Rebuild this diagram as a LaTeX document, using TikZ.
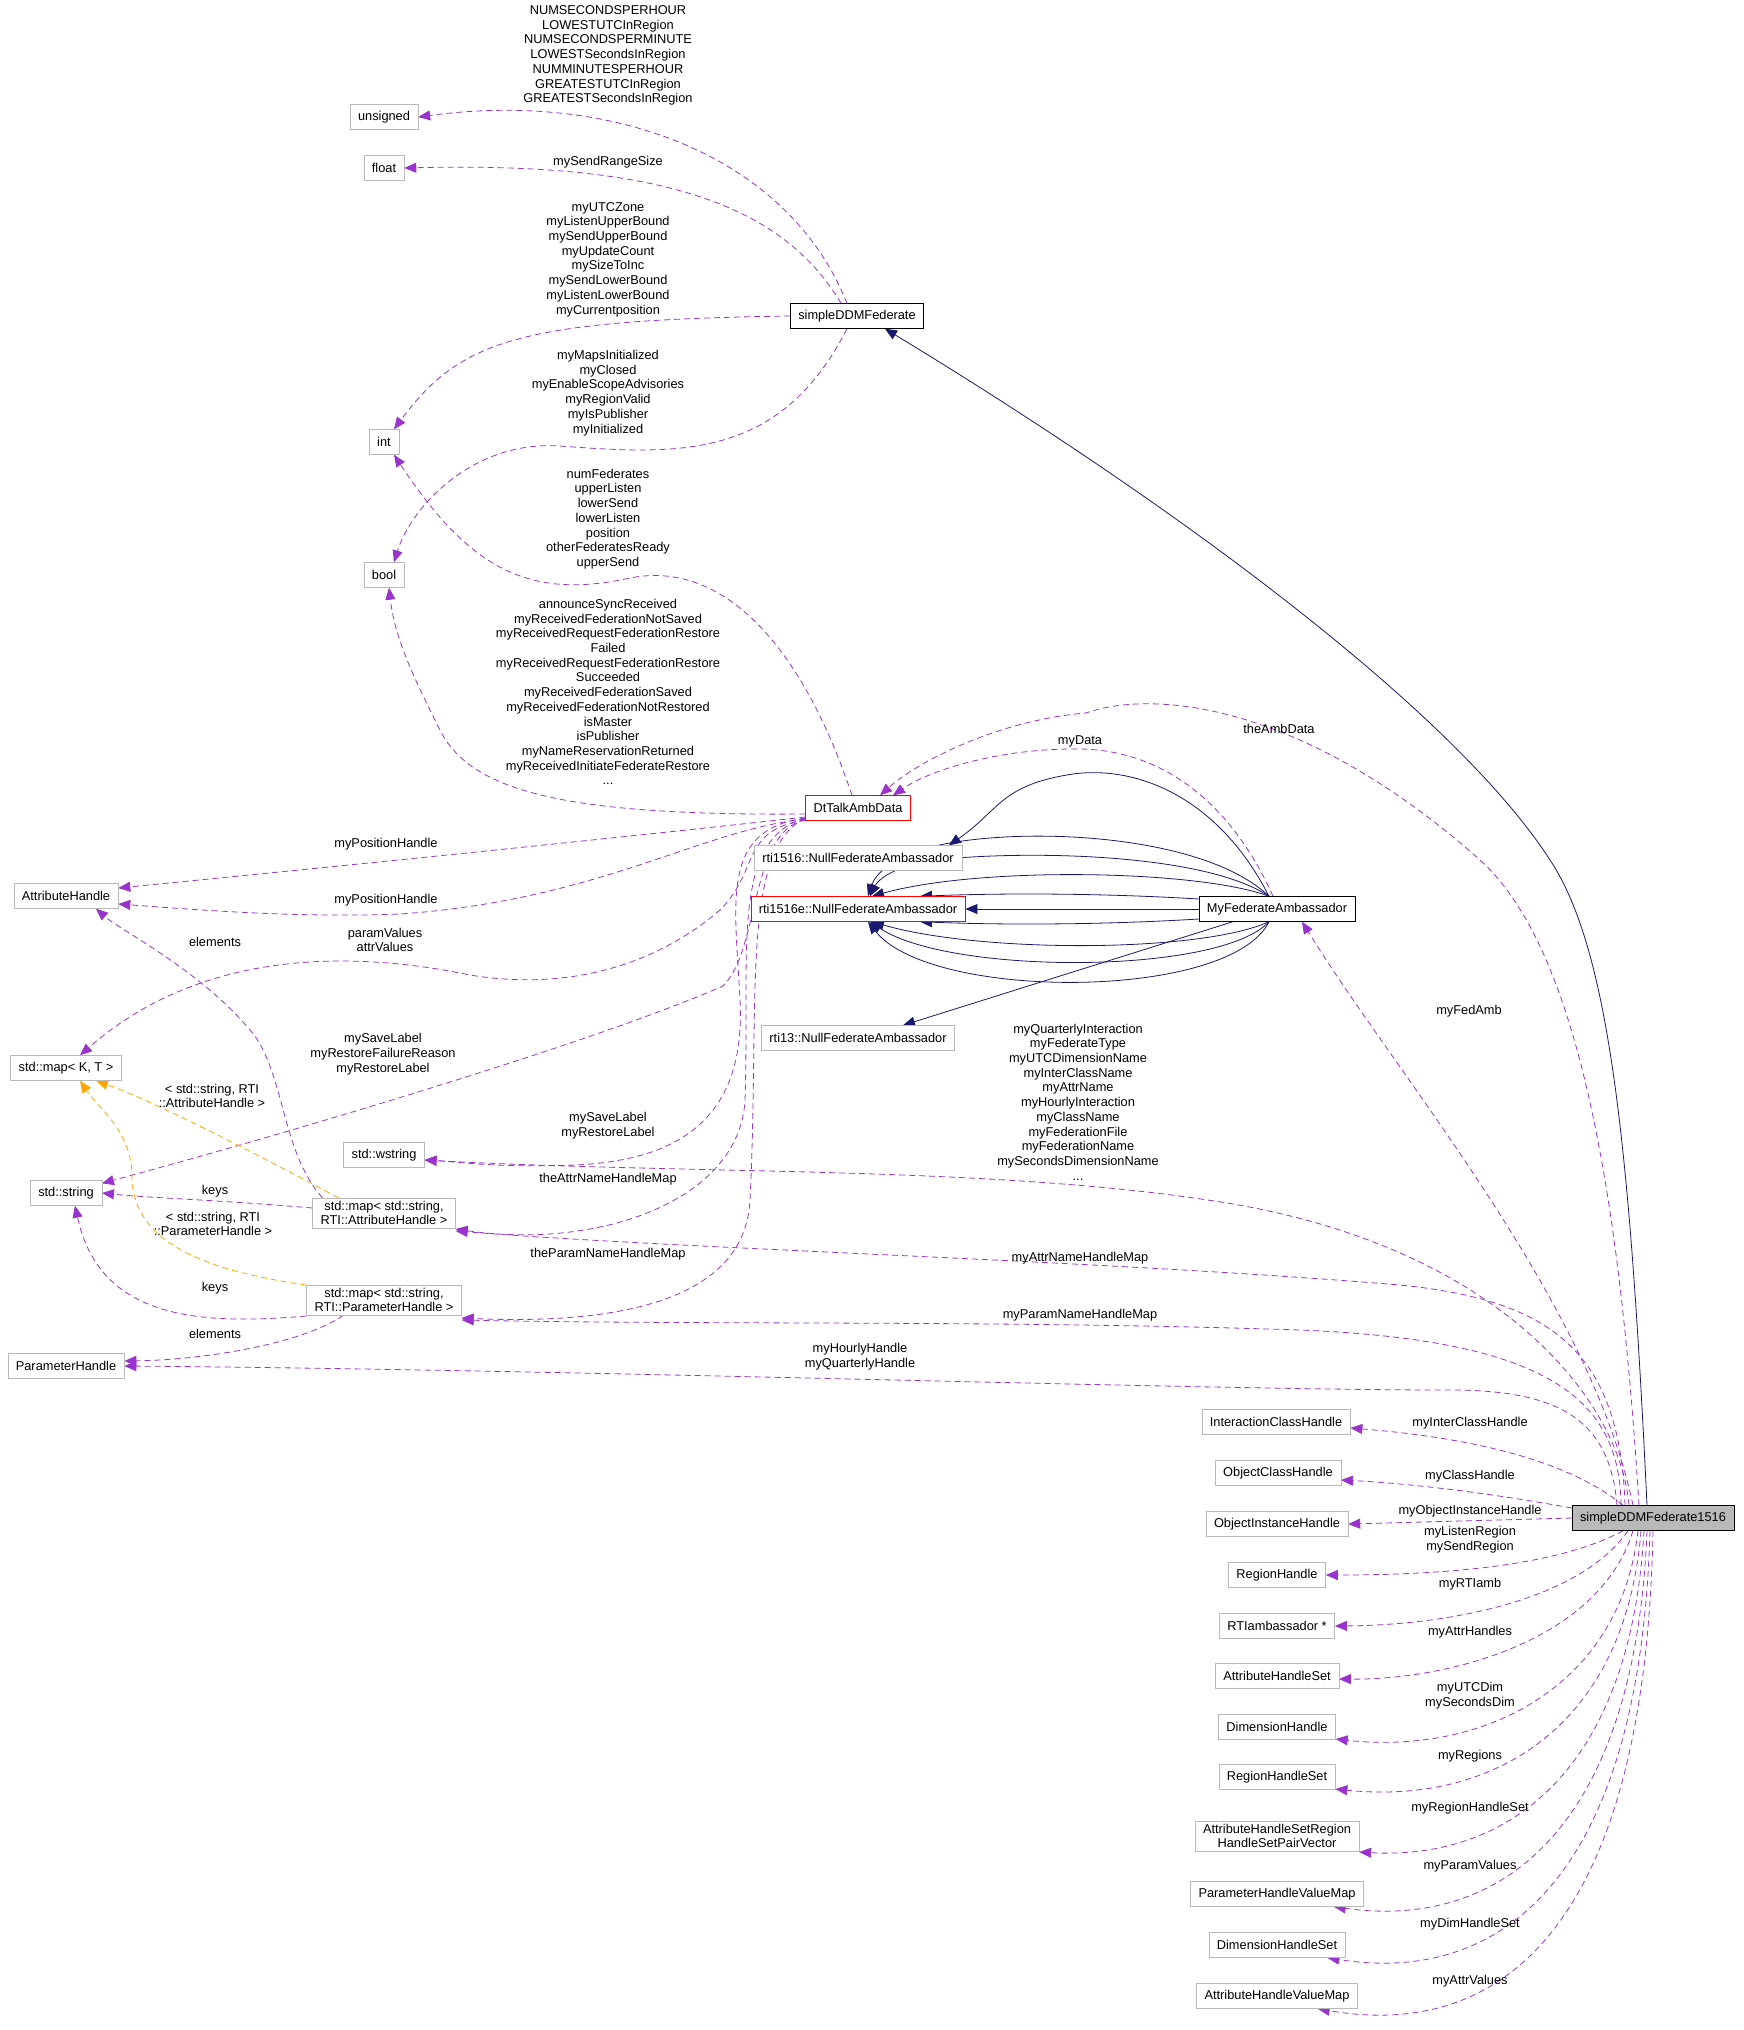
\documentclass[tikz,border=0pt]{standalone}
\usepackage{fontspec}
\newfontfamily\lblfont{Liberation Sans}
\usetikzlibrary{arrows.meta,calc}
\definecolor{pur}{HTML}{9A32CD}
\definecolor{nav}{HTML}{191970}
\definecolor{org}{HTML}{FFA500}
\pgfdeclarelayer{bg}\pgfsetlayers{bg,main}
\begin{document}
\begin{tikzpicture}[x=1pt,y=-1pt,
 every node/.style={font=\lblfont\fontsize{12.8}{14.7}\selectfont, align=center},
 box/.style={draw=gray!55, fill=white, inner xsep=8pt, inner ysep=3pt, minimum height=25pt},
 rbox/.style={box, draw=red},
 kbox/.style={box, draw=black},
 lb/.style={inner sep=0pt},
 pe/.style={draw=pur, dashed, dash pattern=on 6pt off 4pt, thick, -{Triangle[length=12pt,width=10pt]}},
 oe/.style={pe, draw=org},
 ne/.style={draw=nav, thick, -{Triangle[length=12pt,width=10pt]}}]
\useasboundingbox (0,0) rectangle (1744,2030);
% nodes
\node[box] (uns) at (384,117) {unsigned};
\node[box] (flt) at (384,168) {float};
\node[kbox] (F) at (857,316) {simpleDDMFederate};
\node[box] (int) at (384,442) {int};
\node[box] (bool) at (384,575) {bool};
\node[rbox] (D) at (858,808) {DtTalkAmbData};
\node[box] (AH) at (66,896) {AttributeHandle};
\node[box] (R1) at (858,858) {rti1516::NullFederateAmbassador};
\node[rbox] (R1e) at (858,909) {rti1516e::NullFederateAmbassador};
\node[kbox] (M) at (1277,909) {MyFederateAmbassador};
\node[box] (R13) at (858,1038) {rti13::NullFederateAmbassador};
\node[box] (Kmap) at (66,1068) {std::map\textless{} K, T \textgreater};
\node[box] (W) at (384,1155) {std::wstring};
\node[box] (Str) at (66,1193) {std::string};
\node[box] (MA) at (384,1213) {std::map\textless{} std::string,\\RTI::AttributeHandle \textgreater};
\node[box] (MP) at (384,1300) {std::map\textless{} std::string,\\RTI::ParameterHandle \textgreater};
\node[box] (PH) at (66,1366) {ParameterHandle};
\node[box,fill=gray!55,draw=black] (S) at (1653,1518) {simpleDDMFederate1516};
\node[box] (ICH) at (1276,1422) {InteractionClassHandle};
\node[box] (OCH) at (1278,1473) {ObjectClassHandle};
\node[box] (OIH) at (1277,1524) {ObjectInstanceHandle};
\node[box] (RH) at (1277,1575) {RegionHandle};
\node[box] (RTI) at (1277,1626) {RTIambassador *};
\node[box] (AHS) at (1277,1676) {AttributeHandleSet};
\node[box] (DH) at (1277,1727) {DimensionHandle};
\node[box] (RHS) at (1277,1777) {RegionHandleSet};
\node[box] (PV) at (1277,1836) {AttributeHandleSetRegion\\HandleSetPairVector};
\node[box] (PHVM) at (1277,1894) {ParameterHandleValueMap};
\node[box] (DHS) at (1277,1945) {DimensionHandleSet};
\node[box] (AHVM) at (1277,1996) {AttributeHandleValueMap};
% labels
\node[lb] (l1) at (608,55.5) {NUMSECONDSPERHOUR\\LOWESTUTCInRegion\\NUMSECONDSPERMINUTE\\LOWESTSecondsInRegion\\NUMMINUTESPERHOUR\\GREATESTUTCInRegion\\GREATESTSecondsInRegion};
\node[lb] (l2) at (608,162) {mySendRangeSize};
\node[lb] (l3) at (608,259.5) {myUTCZone\\myListenUpperBound\\mySendUpperBound\\myUpdateCount\\mySizeToInc\\mySendLowerBound\\myListenLowerBound\\myCurrentposition};
\node[lb] (l4) at (608,393) {myMapsInitialized\\myClosed\\myEnableScopeAdvisories\\myRegionValid\\myIsPublisher\\myInitialized};
\node[lb] (l5) at (608,519) {numFederates\\upperListen\\lowerSend\\lowerListen\\position\\otherFederatesReady\\upperSend};
\node[lb] (l6) at (608,692) {announceSyncReceived\\myReceivedFederationNotSaved\\myReceivedRequestFederationRestore\\Failed\\myReceivedRequestFederationRestore\\Succeeded\\myReceivedFederationSaved\\myReceivedFederationNotRestored\\isMaster\\isPublisher\\myNameReservationReturned\\myReceivedInitiateFederateRestore\\...};
\node[lb] (l7) at (386,844) {myPositionHandle};
\node[lb] (l8) at (386,900) {myPositionHandle};
\node[lb] (l9) at (215,942) {elements};
\node[lb] (l10) at (385,940) {paramValues\\attrValues};
\node[lb] (l11) at (383,1054) {mySaveLabel\\myRestoreFailureReason\\myRestoreLabel};
\node[lb] (l12) at (212,1096) {\textless{} std::string, RTI\\::AttributeHandle \textgreater};
\node[lb] (l13) at (608,1126) {mySaveLabel\\myRestoreLabel};
\node[lb] (l14) at (608,1179) {theAttrNameHandleMap};
\node[lb] (l15) at (215,1191) {keys};
\node[lb] (l16) at (213,1224) {\textless{} std::string, RTI\\::ParameterHandle \textgreater};
\node[lb] (l17) at (608,1254) {theParamNameHandleMap};
\node[lb] (l18) at (215,1288) {keys};
\node[lb] (l19) at (215,1334) {elements};
\node[lb] (l20) at (1279,729) {theAmbData};
\node[lb] (l21) at (1080,741) {myData};
\node[lb] (l22) at (1469,1011) {myFedAmb};
\node[lb] (l23) at (1078,1102) {myQuarterlyInteraction\\myFederateType\\myUTCDimensionName\\myInterClassName\\myAttrName\\myHourlyInteraction\\myClassName\\myFederationFile\\myFederationName\\mySecondsDimensionName\\...};
\node[lb] (l24) at (1080,1258) {myAttrNameHandleMap};
\node[lb] (l25) at (1080,1315) {myParamNameHandleMap};
\node[lb] (l26) at (860,1357) {myHourlyHandle\\myQuarterlyHandle};
\node[lb] (l27) at (1470,1423) {myInterClassHandle};
\node[lb] (l28) at (1470,1476) {myClassHandle};
\node[lb] (l29) at (1470,1511) {myObjectInstanceHandle};
\node[lb] (l30) at (1470,1540) {myListenRegion\\mySendRegion};
\node[lb] (l31) at (1470,1584) {myRTIamb};
\node[lb] (l32) at (1470,1632) {myAttrHandles};
\node[lb] (l33) at (1470,1695.5) {myUTCDim\\mySecondsDim};
\node[lb] (l34) at (1470,1756) {myRegions};
\node[lb] (l35) at (1470,1808) {myRegionHandleSet};
\node[lb] (l36) at (1470,1866) {myParamValues};
\node[lb] (l37) at (1470,1924) {myDimHandleSet};
\node[lb] (l38) at (1470,1981) {myAttrValues};
\begin{pgfonlayer}{bg}
% from simpleDDMFederate
\draw[pe] ($(F.north)+(-10,0)$) .. controls (790,160) and (620,90) .. (uns.east);
\draw[pe] ($(F.north)+(-16,0)$) .. controls (780,200) and (650,162) .. (flt.east);
\draw[pe] (F.west) .. controls (520,320) and (460,340) .. ($(int.north)+(10,0)$);
\draw[pe] ($(F.south)+(-10,0)$) .. controls (780,460) and (680,455) .. (560,446) .. controls (470,440) and (410,510) .. ($(bool.north)+(10,0)$);
% from DtTalkAmbData
\draw[pe] ($(D.north)+(-6,0)$) .. controls (800,640) and (720,560) .. (630,578) .. controls (530,600) and (470,570) .. ($(int.south)+(10,0)$);
\draw[pe] ($(D.west)+(0,6)$) .. controls (560,816) and (470,790) .. (440,730) .. controls (415,680) and (395,640) .. ($(bool.south)+(5,0)$);
\draw[pe] ($(D.west)+(0,9)$) .. controls (600,840) and (300,870) .. ($(AH.east)+(0,-8)$);
\draw[pe] ($(D.west)+(0,11)$) .. controls (700,830) and (600,900) .. (400,914) .. controls (300,918) and (200,910) .. ($(AH.east)+(0,8)$);
\draw[pe] ($(D.west)+(0,12)$) .. controls (740,830) and (760,870) .. (720,910) .. controls (650,970) and (560,990) .. (470,975) .. controls (350,950) and (200,950) .. ($(Kmap.north)+(14,0)$);
\draw[pe] ($(D.west)+(0,12)$) .. controls (750,830) and (760,950) .. (723,986) .. controls (600,1040) and (300,1130) .. ($(Str.north east)+(0,3)$);
\draw[pe] ($(D.west)+(0,10)$) .. controls (720,830) and (735,900) .. (740,1000) .. controls (745,1100) and (700,1160) .. (574,1165) .. controls (500,1168) and (460,1162) .. ($(W.east)+(0,5)$);
\draw[pe] ($(D.west)+(0,10)$) .. controls (730,840) and (750,950) .. (745,1100) .. controls (740,1200) and (600,1250) .. ($(MA.east)+(0,16)$);
\draw[pe] ($(D.west)+(0,10)$) .. controls (740,850) and (760,1000) .. (750,1200) .. controls (745,1300) and (620,1325) .. ($(MP.east)+(0,18)$);
% maps
\draw[pe] ($(MA.north west)+(10,0)$) .. controls (280,1150) and (285,1070) .. (250,1030) .. controls (200,970) and (120,930) .. ($(AH.south)+(30,0)$);
\draw[pe] ($(MA.west)+(0,-5)$) .. controls (220,1200) and (150,1198) .. (Str.east);
\draw[oe] ($(MA.north west)+(26,0)$) .. controls (230,1140) and (150,1100) .. ($(Kmap.south)+(30,0)$);
\draw[oe] ($(MP.west)+(0,-15)$) .. controls (200,1270) and (130,1240) .. (132,1173) .. controls (130,1130) and (100,1110) .. ($(Kmap.south)+(14,0)$);
\draw[pe] ($(MP.west)+(0,16)$) .. controls (200,1325) and (100,1320) .. ($(Str.south)+(9,0)$);
\draw[pe] ($(MP.south west)+(37,0)$) .. controls (300,1345) and (200,1360) .. ($(PH.east)+(0,-5)$);
% MyFederateAmbassador inheritance
\draw[ne] ($(M.north)+(-8,0)$) .. controls (1220,800) and (1140,765) .. (1073,774) .. controls (1000,785) and (1000,810) .. ($(R1.north east)+(-13,0)$);
\draw[ne] ($(M.north)+(-8,0)$) .. controls (1200,830) and (1000,825) .. (920,850) .. controls (890,860) and (875,875) .. ($(R1e.north)+(10,0)$);
\draw[ne] ($(M.north)+(-8,0)$) .. controls (1200,850) and (1000,850) .. (920,862) .. controls (890,870) and (878,880) .. ($(R1e.north)+(12,0)$);
\draw[ne] ($(M.north)+(-8,0)$) .. controls (1200,870) and (980,866) .. ($(R1e.north)+(14,0)$);
\draw[ne] ($(M.west)+(0,-10)$) .. controls (1100,893) and (1000,893) .. ($(R1e.north)+(62,0)$);
\draw[ne] (M.west) -- (R1e.east);
\draw[ne] ($(M.west)+(0,10)$) .. controls (1100,925) and (1000,925) .. ($(R1e.south)+(62,0)$);
\draw[ne] ($(M.south)+(-8,0)$) .. controls (1200,953) and (980,953) .. ($(R1e.south)+(14,0)$);
\draw[ne] ($(M.south)+(-8,0)$) .. controls (1220,975) and (950,975) .. ($(R1e.south)+(12,0)$);
\draw[ne] ($(M.south)+(-8,0)$) .. controls (1230,1001) and (930,1001) .. ($(R1e.south)+(10,0)$);
\draw[ne] ($(M.south)+(-44,0)$) -- ($(R13.north)+(45,0)$);
\draw[pe] ($(M.north)+(-4,0)$) .. controls (1230,800) and (1160,750) .. (1080,749) .. controls (1000,748) and (930,770) .. ($(D.north)+(35,0)$);
% from simpleDDMFederate1516
\draw[ne] ($(S.north)+(-6,0)$) .. controls (1630,1150) and (1610,950) .. (1550,860) .. controls (1460,720) and (1200,520) .. ($(F.south)+(28,0)$);
\draw[pe] ($(S.north)+(-14,0)$) .. controls (1620,1200) and (1580,950) .. (1480,860) .. controls (1300,700) and (1150,690) .. (1086,713) .. controls (1000,720) and (920,760) .. ($(D.north)+(22,0)$);
\draw[pe] ($(S.north)+(-20,0)$) .. controls (1590,1300) and (1400,1080) .. ($(M.south)+(25,0)$);
\draw[pe] ($(S.north)+(-24,0)$) .. controls (1620,1400) and (1500,1250) .. (1233,1204) .. controls (1000,1165) and (700,1175) .. ($(W.east)+(0,5)$);
\draw[pe] ($(S.north)+(-28,0)$) .. controls (1620,1350) and (1550,1300) .. (1400,1285) .. controls (1100,1260) and (700,1250) .. ($(MA.east)+(0,18)$);
\draw[pe] ($(S.north)+(-32,0)$) .. controls (1620,1400) and (1550,1340) .. (1300,1330) .. controls (1000,1320) and (700,1325) .. ($(MP.east)+(0,20)$);
\draw[pe] ($(S.north)+(-36,0)$) .. controls (1610,1420) and (1560,1390) .. (1450,1390) .. controls (1200,1390) and (600,1370) .. (PH.east);
\draw[pe] ($(S.north)+(-30,0)$) .. controls (1580,1470) and (1500,1440) .. ($(ICH.east)+(0,6)$);
\draw[pe] ($(S.west)+(0,-10)$) .. controls (1500,1495) and (1420,1484) .. ($(OCH.east)+(0,7)$);
\draw[pe] (S.west) -- (OIH.east);
\draw[pe] ($(S.south)+(-30,0)$) .. controls (1560,1565) and (1450,1575) .. (RH.east);
\draw[pe] ($(S.south)+(-25,0)$) .. controls (1580,1600) and (1450,1625) .. (RTI.east);
\draw[pe] ($(S.south)+(-20,0)$) .. controls (1600,1640) and (1450,1680) .. ($(AHS.east)+(0,3)$);
\draw[pe] ($(S.south)+(-15,0)$) .. controls (1620,1690) and (1480,1755) .. ($(DH.east)+(0,12)$);
\draw[pe] ($(S.south)+(-12,0)$) .. controls (1625,1730) and (1490,1805) .. ($(RHS.east)+(0,12)$);
\draw[pe] ($(S.south)+(-9,0)$) .. controls (1630,1780) and (1500,1860) .. ($(PV.east)+(0,16)$);
\draw[pe] ($(S.south)+(-6,0)$) .. controls (1635,1830) and (1500,1930) .. ($(PHVM.south east)+(-30,0)$);
\draw[pe] ($(S.south)+(-3,0)$) .. controls (1640,1880) and (1500,1985) .. ($(DHS.south east)+(-18,0)$);
\draw[pe] (S.south) .. controls (1645,1930) and (1500,2040) .. ($(AHVM.south east)+(-40,0)$);
\end{pgfonlayer}
\end{tikzpicture}
\end{document}
